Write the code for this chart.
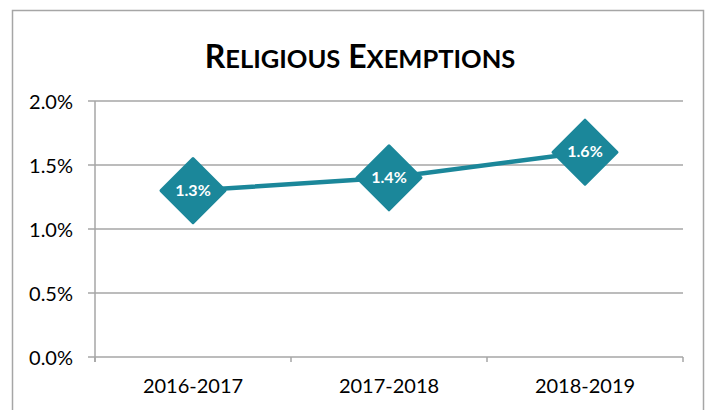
<!DOCTYPE html>
<html>
<head>
<meta charset="utf-8">
<script src="https://cdn.jsdelivr.net/npm/d3@7"></script>
<style>
  body { margin: 0; background: #fff; }
  text { font-family: Lato, "Open Sans", sans-serif; }
</style>
</head>
<body>
<div id="chart"></div>
<script>
// Chart data
const years = ["2016-2017", "2017-2018", "2018-2019"];
const rates = [1.3, 1.4, 1.6];
const yTicks = [0, 0.5, 1.0, 1.5, 2.0];

const width = 709;
const height = 410;
const margin = { top: 101, right: 26, bottom: 53, left: 95 };
const teal = "#1b879a";
const grey = "#a6a6a6";

const svg = d3
  .select("#chart")
  .append("svg")
  .attr("width", width)
  .attr("height", height);

// Outer chart border (bottom edge is off-canvas)
svg
  .append("rect")
  .attr("x", 12.5)
  .attr("y", 10.5)
  .attr("width", 691)
  .attr("height", 420)
  .attr("fill", "none")
  .attr("stroke", grey)
  .attr("stroke-width", 1.5);

// Title in small caps
const title = svg
  .append("text")
  .attr("x", 360)
  .attr("y", 68)
  .attr("text-anchor", "middle")
  .attr("font-weight", "bold")
  .attr("fill", "#000");
["Religious", "Exemptions"].forEach((word, i) => {
  title
    .append("tspan")
    .attr("font-size", 32)
    .text((i ? " " : "") + word[0]);
  title
    .append("tspan")
    .attr("font-size", 25.5)
    .text(word.slice(1).toUpperCase());
});

const x = d3
  .scaleBand()
  .domain(years)
  .range([margin.left, width - margin.right]);

const y = d3
  .scaleLinear()
  .domain([0, 2])
  .range([height - margin.bottom, margin.top]);

// Gridlines
svg
  .append("g")
  .selectAll("line")
  .data(yTicks)
  .join("line")
  .attr("x1", margin.left - 7)
  .attr("x2", width - margin.right)
  .attr("y1", (d) => y(d))
  .attr("y2", (d) => y(d))
  .attr("stroke", grey)
  .attr("stroke-width", 1.5);

// Y axis labels
svg
  .append("g")
  .selectAll("text")
  .data(yTicks)
  .join("text")
  .attr("x", 73)
  .attr("y", (d) => y(d) + 8)
  .attr("text-anchor", "end")
  .attr("font-size", 20)
  .attr("fill", "#000")
  .text((d) => d.toFixed(1) + "%");

// Y axis line
svg
  .append("line")
  .attr("x1", margin.left)
  .attr("x2", margin.left)
  .attr("y1", y(2))
  .attr("y2", y(0) + 5)
  .attr("stroke", grey)
  .attr("stroke-width", 1.5);

// X axis ticks between categories
const tickPos = years.map((d) => x(d)).concat([x.range()[1]]);
svg
  .append("g")
  .selectAll("line")
  .data(tickPos)
  .join("line")
  .attr("x1", (d) => d)
  .attr("x2", (d) => d)
  .attr("y1", y(0))
  .attr("y2", y(0) + 5)
  .attr("stroke", grey)
  .attr("stroke-width", 1.5);

// X axis labels
svg
  .append("g")
  .selectAll("text")
  .data(years)
  .join("text")
  .attr("x", (d) => x(d) + x.bandwidth() / 2)
  .attr("y", 393)
  .attr("text-anchor", "middle")
  .attr("font-size", 20)
  .attr("fill", "#000")
  .text((d) => d);

const points = years.map((d, i) => ({ year: d, value: rates[i] }));

// Series line
svg
  .append("path")
  .datum(points)
  .attr("fill", "none")
  .attr("stroke", teal)
  .attr("stroke-width", 4.5)
  .attr(
    "d",
    d3
      .line()
      .x((d) => x(d.year) + x.bandwidth() / 2)
      .y((d) => y(d.value))
  );

// Diamond markers
const marker = svg
  .append("g")
  .selectAll("g")
  .data(points)
  .join("g")
  .attr(
    "transform",
    (d) => `translate(${x(d.year) + x.bandwidth() / 2},${y(d.value)})`
  );

marker
  .append("path")
  .attr("d", "M0,-32L32,0L0,32L-32,0Z")
  .attr("fill", teal)
  .attr("stroke", teal)
  .attr("stroke-width", 3)
  .attr("stroke-linejoin", "round");

marker
  .append("text")
  .attr("y", 5)
  .attr("text-anchor", "middle")
  .attr("font-size", 16)
  .attr("font-weight", "bold")
  .attr("fill", "#fff")
  .text((d) => d.value.toFixed(1) + "%");
</script>
</body>
</html>
